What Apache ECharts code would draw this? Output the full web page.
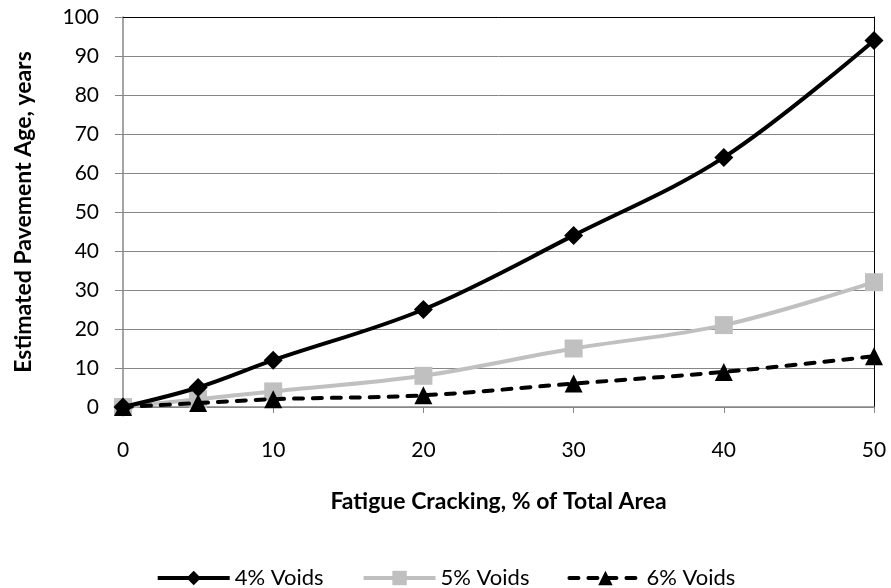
<!DOCTYPE html>
<html>
<head>
<meta charset="utf-8">
<script src="https://cdn.jsdelivr.net/npm/echarts@6/dist/echarts.min.js"></script>
<style>
  html, body { margin: 0; padding: 0; background: #fff; }
  #chart { width: 891px; height: 588px; }
</style>
</head>
<body>
<div id="chart"></div>
<script>
  // fatigue cracking, % of total area
  const cracking = [0, 5, 10, 20, 30, 40, 50];
  // estimated pavement age, years
  const voids4 = [0, 5, 12, 25, 44, 64, 94];
  const voids5 = [0, 2, 4, 8, 15, 21, 32];
  const voids6 = [0, 1, 2, 3, 6, 9, 13];
  const seriesNames = ['4% Voids', '5% Voids', '6% Voids'];

  const font = 'Lato, "Open Sans", sans-serif';
  const pairs = arr => cracking.map((x, i) => [x, arr[i]]);

  let chart = echarts.init(document.getElementById('chart'));
  chart.setOption({
    animation: false,
    textStyle: { fontFamily: font },
    grid: { left: 123, right: 17, top: 17, bottom: 181 },
    legend: {
      top: 562,
      left: 'center',
      itemWidth: 72,
      itemHeight: 18,
      itemGap: 38,
      lineStyle: { width: 4 },
      textStyle: { fontSize: 22, color: '#000', fontFamily: font },
      data: seriesNames
    },
    xAxis: [{
      type: 'value',
      min: 0, max: 50, interval: 10,
      name: 'Fatigue Cracking, % of Total Area',
      nameLocation: 'middle',
      nameGap: 83,
      nameTextStyle: { fontSize: 23, fontWeight: 'bold', color: '#000' },
      axisLine: { lineStyle: { color: '#868686', width: 1.5 } },
      axisTick: { show: true, length: 6, lineStyle: { color: '#868686' } },
      axisLabel: { fontSize: 21, color: '#000', margin: 33 },
      splitLine: { show: false }
    }, {
      type: 'value', position: 'top', min: 0, max: 50,
      axisLine: { show: true, onZero: false, lineStyle: { color: '#000', width: 1 } },
      axisTick: { show: false }, axisLabel: { show: false }, splitLine: { show: false }
    }],
    yAxis: [{
      type: 'value',
      min: 0, max: 100, interval: 10,
      name: 'Estimated Pavement Age, years',
      nameLocation: 'middle',
      nameGap: 88,
      nameTextStyle: { fontSize: 23, fontWeight: 'bold', color: '#000' },
      axisLine: { show: true, lineStyle: { color: '#868686', width: 1.5 } },
      axisTick: { show: true, length: 8, lineStyle: { color: '#868686' } },
      axisLabel: { fontSize: 21, color: '#000', margin: 24 },
      splitLine: { lineStyle: { color: '#868686', width: 1 } }
    }, {
      type: 'value', position: 'right', min: 0, max: 100,
      axisLine: { show: true, onZero: false, lineStyle: { color: '#000', width: 1 } },
      axisTick: { show: false }, axisLabel: { show: false }, splitLine: { show: false }
    }],
    series: [
      {
        name: seriesNames[0],
        type: 'line',
        smooth: 0.35,
        data: pairs(voids4),
        symbol: 'diamond',
        symbolSize: 19,
        itemStyle: { color: '#000' },
        lineStyle: { color: '#000', width: 4 },
        z: 4
      },
      {
        name: seriesNames[1],
        type: 'line',
        smooth: 0.35,
        data: pairs(voids5),
        symbol: 'rect',
        symbolSize: 18,
        itemStyle: { color: '#c0c0c0' },
        lineStyle: { color: '#c0c0c0', width: 4 },
        z: 2
      },
      {
        name: seriesNames[2],
        type: 'line',
        smooth: 0.35,
        data: pairs(voids6),
        symbol: 'triangle',
        symbolSize: 18,
        itemStyle: { color: '#000' },
        lineStyle: { color: '#000', width: 4, type: [9, 10], cap: 'round' },
        z: 3
      }
    ]
  });
</script>
</body>
</html>
